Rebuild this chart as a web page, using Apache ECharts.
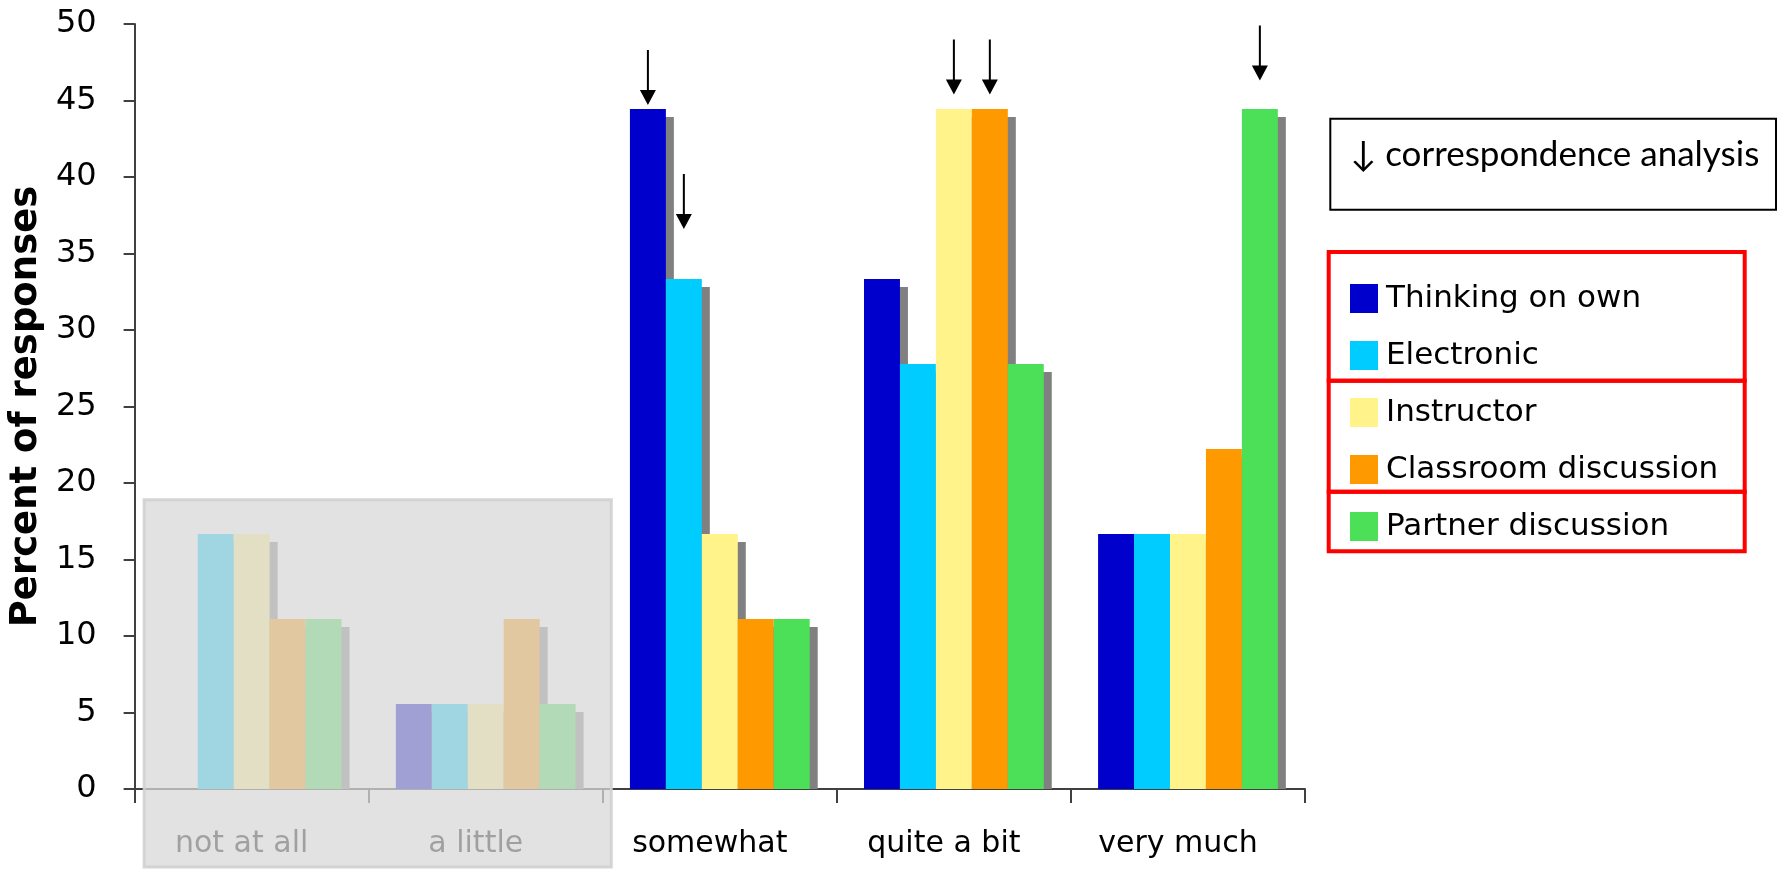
<!DOCTYPE html>
<html>
<head>
<meta charset="utf-8">
<script src="https://cdn.jsdelivr.net/npm/echarts@6/dist/echarts.min.js"></script>
<style>
  html, body { margin: 0; padding: 0; background: #ffffff; }
  #chart { width: 1781px; height: 870px; }
</style>
</head>
<body>
<div id="chart"></div>
<script>
// Response categories along the x axis
const categories = ['not at all', 'a little', 'somewhat', 'quite a bit', 'very much'];

// Percent of responses per source of help
const thinkingOnOwn       = [0, 5.56, 44.44, 33.33, 16.67];
const electronic          = [16.67, 5.56, 33.33, 27.78, 16.67];
const instructor          = [16.67, 5.56, 16.67, 44.44, 16.67];
const classroomDiscussion = [11.11, 11.11, 11.11, 44.44, 22.22];
const partnerDiscussion   = [11.11, 5.56, 11.11, 27.78, 44.44];

const seriesNames  = ['Thinking on own', 'Electronic', 'Instructor', 'Classroom discussion', 'Partner discussion'];
const seriesValues = [thinkingOnOwn, electronic, instructor, classroomDiscussion, partnerDiscussion];
const seriesColors = ['#0000CC', '#00CCFF', '#FFF38A', '#FF9900', '#4CE058'];

// Value axis ticks
const yMin = 0, yMax = 50, yStep = 5;

// Bars flagged by the correspondence analysis (arrow tip height in axis units)
const analysisSeries   = ['Thinking on own', 'Electronic', 'Instructor', 'Classroom discussion', 'Partner discussion'];
const analysisCategory = ['somewhat', 'somewhat', 'quite a bit', 'quite a bit', 'very much'];
const analysisTip      = [44.7, 36.6, 45.4, 45.4, 46.3];

// Categories shaded out as low responses
const fadedCategories = ['not at all', 'a little'];
const fadedTop = 18.9;

const FONT = 'DejaVu Sans';
const BAR_FRACTION = 0.1536;      // bar width as a share of the category band
const SHADOW_DX = 8, SHADOW_DY = 8;
const ARROW_PATH = 'path://M7,0L9,0L9,40L16,40L8,55L0,40L7,40Z';

const chart = echarts.init(document.getElementById('chart'), null, { renderer: 'canvas' });

// Drop shadows behind every bar, drawn before the bars themselves
const shadowData = [];
seriesValues.forEach((vals, s) => vals.forEach((v, c) => shadowData.push([c, s, v])));

const shadowSeries = {
  type: 'custom',
  name: 'bar shadow',
  silent: true,
  z: 1,
  data: shadowData,
  encode: { x: 0, y: 2 },
  renderItem: function (params, api) {
    const c = api.value(0), s = api.value(1), v = api.value(2);
    const base = api.coord([c, 0]);
    const top = api.coord([c, v]);
    const band = api.size([1, 0])[0];
    const bw = band * BAR_FRACTION;
    const x0 = base[0] - bw * seriesNames.length / 2 + s * bw + SHADOW_DX;
    const h = base[1] - top[1] - SHADOW_DY;
    if (h <= 0) return null;
    return {
      type: 'rect',
      shape: { x: x0, y: top[1] + SHADOW_DY, width: bw, height: h },
      style: { fill: '#808080' }
    };
  }
};

const barSeries = seriesNames.map((name, s) => {
  const marks = [];
  analysisSeries.forEach((sn, k) => {
    if (sn === name) {
      marks.push({ coord: [categories.indexOf(analysisCategory[k]), analysisTip[k]] });
    }
  });
  return {
    type: 'bar',
    name: name,
    data: seriesValues[s],
    barWidth: (BAR_FRACTION * 100) + '%',
    barGap: '0%',
    z: 2,
    itemStyle: { color: seriesColors[s] },
    emphasis: { disabled: true },
    markPoint: marks.length ? {
      symbol: ARROW_PATH,
      symbolSize: [16, 55],
      symbolOffset: [0, '-50%'],
      symbolKeepAspect: false,
      itemStyle: { color: '#000000' },
      label: { show: false },
      silent: true,
      data: marks
    } : undefined
  };
});

chart.setOption({
  animation: false,
  backgroundColor: '#ffffff',
  textStyle: { fontFamily: FONT },
  grid: { left: 133, right: 476, top: 24, bottom: 81, containLabel: false },
  xAxis: {
    type: 'category',
    data: categories,
    boundaryGap: true,
    axisLine: { show: true, lineStyle: { color: '#404040', width: 2 } },
    axisTick: { show: true, alignWithLabel: false, length: 14, lineStyle: { color: '#404040', width: 2 } },
    axisLabel: {
      color: '#000000', fontFamily: FONT, fontSize: 30, margin: 40,
      padding: [0, 20, 0, 0]
    },
    splitLine: { show: false }
  },
  yAxis: {
    type: 'value',
    min: yMin, max: yMax, interval: yStep,
    name: 'Percent of responses',
    nameLocation: 'middle',
    nameGap: 88,
    nameRotate: 90,
    nameTextStyle: { color: '#000000', fontFamily: FONT, fontWeight: 'bold', fontSize: 37 },
    axisLine: { show: true, lineStyle: { color: '#404040', width: 2 } },
    axisTick: { show: true, inside: false, length: 11, lineStyle: { color: '#404040', width: 2 } },
    axisLabel: { color: '#000000', fontFamily: FONT, fontSize: 32, margin: 38 },
    splitLine: { show: false }
  },
  legend: {
    show: true,
    data: seriesNames,
    orient: 'vertical',
    left: 1345,
    top: 278,
    itemWidth: 28,
    itemHeight: 29,
    itemGap: 26,
    icon: 'rect',
    selectedMode: false,
    textStyle: { color: '#000000', fontFamily: FONT, fontSize: 31, lineHeight: 31, padding: [0, 0, 0, 3] }
  },
  series: [shadowSeries].concat(barSeries)
});

// Overlay and legend frames, positioned from the axes once they are laid out
function drawDecorations() {
  const c0 = chart.convertToPixel({ xAxisIndex: 0 }, 0);
  const c1 = chart.convertToPixel({ xAxisIndex: 0 }, 1);
  const band = c1 - c0;
  const firstIdx = categories.indexOf(fadedCategories[0]);
  const lastIdx = categories.indexOf(fadedCategories[fadedCategories.length - 1]);
  const left = chart.convertToPixel({ xAxisIndex: 0 }, firstIdx) - band / 2 + 9.5;
  const right = chart.convertToPixel({ xAxisIndex: 0 }, lastIdx) + band / 2 + 8.5;
  const top = chart.convertToPixel({ yAxisIndex: 0 }, fadedTop);
  const bottom = chart.getHeight() - 3;

  const frameX = 1328.7, frameW = 416;
  const groupEdges = [252, 380.8, 491.7, 551.3];
  const frames = [];
  for (let i = 0; i < groupEdges.length - 1; i++) {
    frames.push({
      type: 'rect', z: 50, silent: true,
      shape: { x: frameX, y: groupEdges[i], width: frameW, height: groupEdges[i + 1] - groupEdges[i] },
      style: { fill: null, stroke: '#FF0000', lineWidth: 4 }
    });
  }

  chart.setOption({
    graphic: [
      {
        type: 'rect', z: 100, silent: true,
        shape: { x: left, y: top, width: right - left, height: bottom - top },
        style: { fill: 'rgba(216,216,216,0.74)', stroke: 'rgba(208,208,208,0.9)', lineWidth: 3 }
      },
      {
        type: 'rect', z: 50, silent: true,
        shape: { x: 1330.3, y: 118.7, width: 445.7, height: 91 },
        style: { fill: '#ffffff', stroke: '#000000', lineWidth: 2 }
      },
      {
        type: 'text', z: 51, silent: true,
        x: 1350, y: 155,
        style: {
          text: '\u2193 correspondence analysis',
          fill: '#000000',
          font: '35px Lato',
          verticalAlign: 'middle',
          align: 'left'
        }
      }
    ].concat(frames)
  });
}
drawDecorations();
</script>
</body>
</html>
